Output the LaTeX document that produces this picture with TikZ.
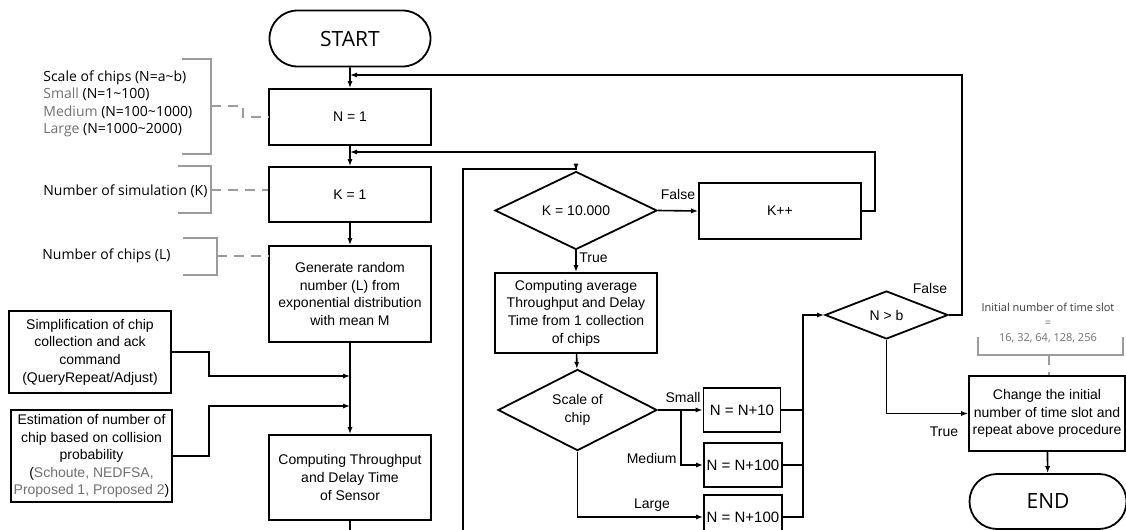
\documentclass[tikz,border=0pt]{standalone}
\usepackage{fontspec}
\setmainfont{Liberation Sans}
\newfontfamily\annfont{Open Sans}
\usetikzlibrary{shapes.geometric,shapes.misc,arrows.meta}
\definecolor{anngray}{HTML}{707070}
\definecolor{brgray}{HTML}{9C9C9C}
\definecolor{darkann}{HTML}{3A3A3A}
\begin{document}
\begin{tikzpicture}[x=0.5pt,y=-0.5pt,
  box/.style={draw=black, line width=0.9pt, rectangle, inner sep=0pt, align=center, font=\fontsize{7}{8.8}\selectfont},
  dia/.style={draw=black, line width=0.9pt, diamond, inner sep=0pt, align=center, font=\fontsize{7}{8.8}\selectfont},
  term/.style={draw=black, line width=0.9pt, rounded rectangle, inner sep=0pt, font=\annfont\fontsize{10.5}{12}\selectfont},
  conn/.style={line width=0.8pt, draw=black},
  arr/.style={-{Latex[length=3.5pt,width=2.6pt]}},
  lbl/.style={inner sep=0pt, font=\fontsize{7}{8.8}\selectfont},
  ann/.style={inner sep=0pt, align=left, font=\annfont\fontsize{7}{8.75}\selectfont},
  bracket/.style={draw=brgray, line width=0.8pt},
  dashline/.style={draw=brgray, line width=0.8pt, dash pattern=on 5pt off 3.5pt}
]
\useasboundingbox (0,0) rectangle (1126,530);

% main column
\node[term, minimum width=80.5pt, minimum height=28pt] (start) at (350,38.5) {START};
\node[box, minimum width=81pt, minimum height=28pt] (n1) at (350,117) {N = 1};
\node[box, minimum width=81pt, minimum height=27.5pt] (k1) at (350,194.5) {K = 1};
\node[box, minimum width=81pt, minimum height=48pt] (gen) at (350,294) {Generate random\\number (L) from\\exponential distribution\\with mean M};
\node[box, minimum width=81pt, minimum height=42.5pt] (comp) at (350,477.5) {Computing Throughput\\and Delay Time\\of Sensor};

% left side boxes
\node[box, minimum width=81pt, minimum height=41pt] (simp) at (90,352) {Simplification of chip\\collection and ack\\command\\(QueryRepeat/Adjust)};
\node[box, minimum width=80.5pt, minimum height=46pt] (est) at (91.5,456) {Estimation of number of\\chip based on collision\\probability\\(\textcolor{anngray}{Schoute, NEDFSA,}\\\textcolor{anngray}{Proposed 1, Proposed 2})};

% middle column
\node[dia, minimum width=81pt, minimum height=27.5pt] (kdia) at (576,210.5) {K = 10.000};
\node[box, minimum width=81pt, minimum height=28pt] (kpp) at (780,211) {K++};
\node[box, minimum width=81pt, minimum height=40pt] (avg) at (576,313) {Computing average\\Throughput and Delay\\Time from 1 collection\\of chips};
\node[dia, minimum width=79.5pt, minimum height=36pt] (sdia) at (577.5,410) {Scale of\\chip};
\node[box, minimum width=38.5pt, minimum height=22pt, font=\fontsize{7.5}{9}\selectfont] (b10) at (742,410) {N = N+10};
\node[box, minimum width=39pt, minimum height=22pt, font=\fontsize{7.5}{9}\selectfont] (b100a) at (743,465) {N = N+100};
\node[box, minimum width=39pt, minimum height=22pt, font=\fontsize{7.5}{9}\selectfont] (b100b) at (743,517) {N = N+100};

% right column
\node[dia, minimum width=61.5pt, minimum height=24pt] (nb) at (886.5,315) {N > b};
\node[box, minimum width=78pt, minimum height=37.5pt] (chg) at (1047,413.5) {Change the initial\\number of time slot and\\repeat above procedure};
\node[term, minimum width=78.5pt, minimum height=27.5pt] (end) at (1048,501.5) {END};

% annotations (left)
\node[ann, anchor=west] (a1) at (43,104) {Scale of chips (N=a\textasciitilde b)\\\textcolor{anngray}{Small} (N=1\textasciitilde 100)\\\textcolor{anngray}{Medium} (N=100\textasciitilde 1000)\\\textcolor{anngray}{Large} (N=1000\textasciitilde 2000)};
\draw[bracket] (182,59) -- (211,59) -- (211,154) -- (182,154);
\draw[dashline] (211,106) -- (243,106) -- (243,117) -- (n1.west);

\node[ann, anchor=west] (a2) at (43,191) {Number of simulation (K)};
\draw[bracket] (178,166) -- (211,166) -- (211,213) -- (178,213);
\draw[dashline] (211,190) -- (k1.west |- 0,190);

\node[ann, anchor=west] (a3) at (42,256) {Number of chips (L)};
\draw[bracket] (183,238) -- (217,238) -- (217,275) -- (183,275);
\draw[dashline] (217,256) -- (gen.west |- 0,256);

% annotation (right)
\node[inner sep=0pt, align=center, font=\annfont\fontsize{5.5}{7.5}\selectfont] (a4) at (1048,323) {\textcolor{darkann}{Initial number of time slot}\\\textcolor{anngray}{=}\\\textcolor{anngray}{16, 32, 64, 128, 256}};
\draw[bracket] (978,337) -- (978,355) -- (1123,355) -- (1123,337);
\draw[dashline] (1049,355) -- (chg.north -| 1049,0);

% main connectors
\draw[conn,arr] (start) -- (n1);
\draw[conn,arr] (n1) -- (k1);
\draw[conn,arr] (k1) -- (gen);
\draw[conn,arr] (gen) -- (comp);
\coordinate (cb) at (350,545);
\draw[conn] (comp.south) -- (cb);

\coordinate (t1) at (962,75);
\draw[conn,arr] (nb.east) -| (t1) -- (n1.north |- t1);
\coordinate (t2) at (875,152);
\draw[conn,arr] (kpp.east) -| (t2) -- (n1.south |- t2);

\coordinate (s1) at (209,376);
\draw[conn,arr] (simp.east) -| (s1) -- (gen.south |- s1);
\coordinate (s2) at (209,406);
\draw[conn,arr] (est.east) -| (s2) -- (gen.south |- s2);

% middle connectors
\coordinate (lb) at (463,545);
\coordinate (lt) at (463,169);
\draw[conn,arr] (lb) -- (lt) -| (kdia.north);
\draw[conn,arr] (kdia.east) -- (kpp.west);
\node[lbl] at (678,194) {False};
\draw[conn,arr] (kdia.south) -- (avg.north);
\node[lbl, anchor=west] at (579,258) {True};
\draw[conn,arr] (avg) -- (sdia);
\draw[conn,arr] (sdia.east) -- (b10.west);
\node[lbl] at (683,397) {Small};
\coordinate (br) at (681,410);
\draw[conn,arr] (br) |- (b100a.west);
\node[lbl, anchor=east] at (677,458) {Medium};
\draw[conn,arr] (sdia.south) |- (b100b.west);
\node[lbl] at (652,505) {Large};

\coordinate (rj) at (803,517);
\draw[conn] (b10.east) -- (b10.east -| rj);
\draw[conn] (b100a.east) -- (b100a.east -| rj);
\draw[conn,arr] (b100b.east) -- (rj) -- (rj |- nb.west) -- (nb.west);

% right connectors
\node[lbl] at (930,288) {False};
\draw[conn,arr] (nb.south) |- (chg.west);
\node[lbl] at (944,432) {True};
\draw[conn,arr] (chg) -- (end);
\end{tikzpicture}
\end{document}
